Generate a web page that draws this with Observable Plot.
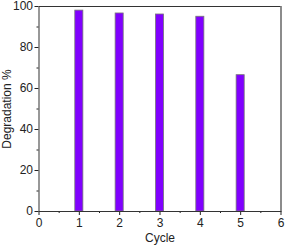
<!DOCTYPE html>
<html>
<head>
<meta charset="utf-8">
<script src="https://cdn.jsdelivr.net/npm/d3@7"></script>
<script src="https://cdn.jsdelivr.net/npm/@observablehq/plot@0.6"></script>
<style>
  body { margin: 0; background: #fff; }
</style>
</head>
<body>
<div id="chart"></div>
<script>
const cycles = [1, 2, 3, 4, 5];
const degradation = [98, 96.6, 96.1, 95.0, 66.5];
const xTicks = [0, 1, 2, 3, 4, 5, 6];
const yTicks = [0, 20, 40, 60, 80, 100];
const xMinor = [0.5, 1.5, 2.5, 3.5, 4.5, 5.5];
const yMinor = [10, 30, 50, 70, 90];

const data = cycles.map((c, i) => ({cycle: c, value: degradation[i]}));

const chart = Plot.plot({
  width: 285,
  height: 246,
  marginLeft: 38.5,
  marginRight: 4.5,
  marginTop: 6,
  marginBottom: 35,
  style: {fontFamily: "Liberation Sans, Arial, sans-serif", fontSize: "12px", color: "#222", background: "#fff"},
  x: {domain: [0, 6]},
  y: {domain: [0, 100]},
  marks: [
    Plot.rectY(data, {x1: d => d.cycle - 0.1, x2: d => d.cycle + 0.1, y: "value", fill: "#8000ff", stroke: "#777", strokeWidth: 0.8}),
    Plot.axisX({ticks: xTicks, tickSize: 4, tickPadding: 3, tickFormat: d => String(d), label: "Cycle", labelAnchor: "center", labelArrow: "none", labelOffset: 30, fontSize: 12}),
    Plot.axisX({ticks: xMinor, tickSize: 2, tickFormat: null, text: null, label: null}),
    Plot.axisY({ticks: yTicks, tickSize: 4, tickPadding: 2, tickFormat: d => String(d), label: "Degradation %", labelAnchor: "center", labelArrow: "none", labelOffset: 37, fontSize: 12}),
    Plot.axisY({ticks: yMinor, tickSize: 2, tickFormat: null, text: null, label: null}),
    Plot.frame({stroke: "#333", strokeWidth: 1}),
    Plot.ruleX([6], {stroke: "#888", strokeWidth: 1.5})
  ]
});
document.getElementById("chart").appendChild(chart);
</script>
</body>
</html>
